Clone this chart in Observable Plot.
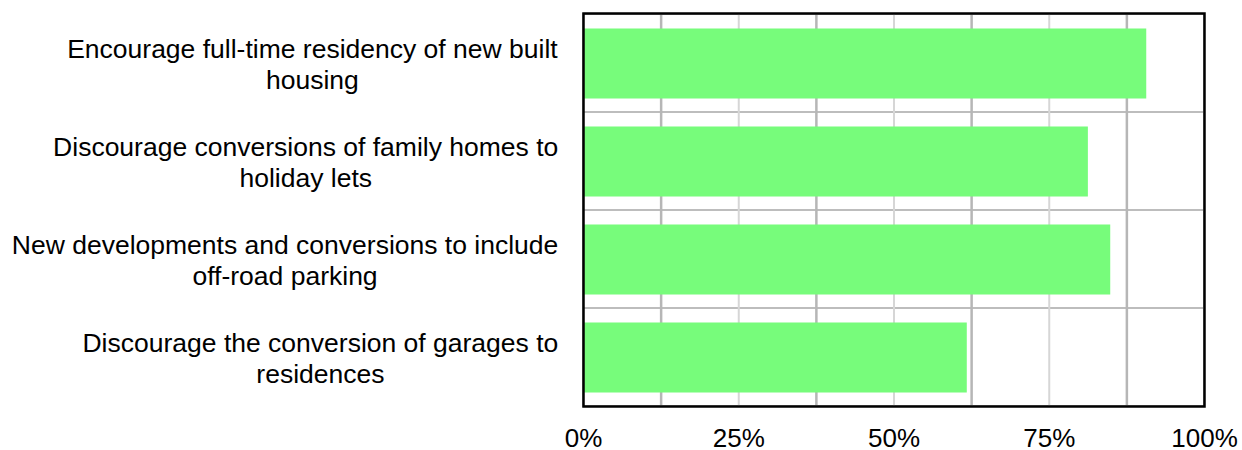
<!DOCTYPE html>
<html>
<head>
<meta charset="utf-8">
<script src="https://cdn.jsdelivr.net/npm/d3@7"></script>
<script src="https://cdn.jsdelivr.net/npm/@observablehq/plot@0.6"></script>
<style>
  html, body { margin: 0; padding: 0; background: #fff; }
</style>
</head>
<body>
<script>
const categories = [
  "Encourage full-time residency of new built housing",
  "Discourage conversions of family homes to holiday lets",
  "New developments and conversions to include off-road parking",
  "Discourage the conversion of garages to residences"
];
const labels = [
  "Encourage full-time residency of new built\nhousing",
  "Discourage conversions of family homes to\nholiday lets",
  "New developments and conversions to include\noff-road parking",
  "Discourage the conversion of garages to\nresidences"
];
const values = [0.907, 0.813, 0.849, 0.618];
const xTicks = [0, 0.25, 0.5, 0.75, 1];
const gridDark = [0.125, 0.375, 0.625, 0.875];
const gridLight = [0.25, 0.5, 0.75];

const data = categories.map((c, i) => ({category: c, label: labels[i], value: values[i]}));

const chart = Plot.plot({
  width: 1242,
  height: 450,
  marginLeft: 583,
  marginRight: 38,
  marginTop: 13,
  marginBottom: 44,
  style: {fontFamily: "'Liberation Sans', Arial, sans-serif", fontSize: "26px", color: "#000", background: "#fff", overflow: "visible"},
  x: {domain: [0, 1], axis: null},
  y: {domain: categories, padding: 0, axis: null},
  marks: [
    Plot.barX(categories, {y: d => d, x1: 0, x2: 1, fill: "none", stroke: "#bdbdbd", strokeWidth: 2}),
    Plot.ruleX(gridLight, {stroke: "#d6d6d6", strokeWidth: 2}),
    Plot.ruleX(gridDark, {stroke: "#b6b6b6", strokeWidth: 2.5}),
    Plot.barX(data, {y: "category", x: "value", fill: "#77fc7b", insetTop: 14.5, insetBottom: 13.5}),
    Plot.frame({stroke: "#000", strokeWidth: 2.5}),
    Plot.axisX(xTicks, {tickFormat: d3.format(".0%"), tickSize: 0, tickPadding: 22, fontSize: 26, label: null}),
    Plot.text(data, {y: "category", text: "label", frameAnchor: "left", textAnchor: "middle", lineHeight: 1.154, fontSize: 26.5, fill: "#000", className: "ylabels"})
  ]
});
document.body.append(chart);

// right-align each label block (lines centered within block) just left of the frame
const svgRect = chart.getBoundingClientRect();
const rightEdge = 558.3;
chart.querySelectorAll('.ylabels text').forEach(el => {
  const r = el.getBoundingClientRect();
  const shift = (svgRect.left + rightEdge) - r.right;
  el.setAttribute("transform", `translate(${shift},0) ` + (el.getAttribute("transform") || ""));
});
</script>
</body>
</html>
